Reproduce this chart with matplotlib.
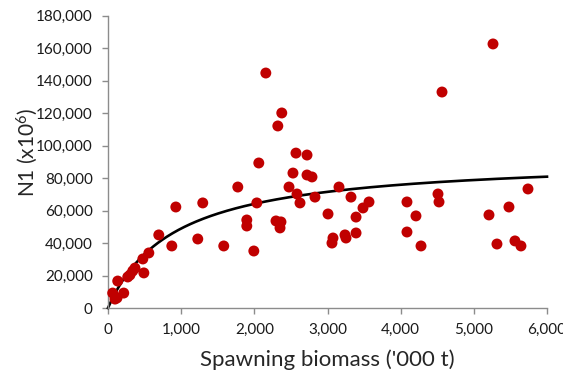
import numpy as np
import matplotlib
matplotlib.use("Agg")
import matplotlib.pyplot as plt
from matplotlib.ticker import FuncFormatter

plt.rcParams['font.family'] = ['Lato', 'DejaVu Sans']
plt.rcParams['mathtext.fontset'] = 'custom'
plt.rcParams['mathtext.rm'] = 'Lato'
plt.rcParams['mathtext.it'] = 'Lato'

# --- dados ---
biomass = [96, 64, 133, 215, 270, 338, 490, 476, 558, 694, 872, 927,
           1227, 1295, 1582, 1774, 1897, 1897, 1993, 2034, 2061, 2157,
           2321, 2375, 2296, 2364, 2351, 2474, 2528, 2569, 2720, 2583,
           2624, 2720, 2788, 2829, 3157, 3321, 3567, 3485, 3390, 3007,
           3075, 3061, 3239, 3253, 3390, 4086, 4209, 4086, 4278, 4510,
           4524, 4565, 5262, 5207, 5316, 5480, 5562, 5644, 5740,
           123, 300, 369]
n1 = [5500, 9200, 16600, 9200, 19100, 22800, 21600, 30200, 33900, 45000,
      38200, 62200, 42500, 64700, 38200, 74500, 54200, 50500, 35100, 64700,
      89300, 144700, 112100, 120100, 53600, 53000, 49300, 74500, 83100,
      95400, 94200, 70200, 64700, 81900, 80700, 68300, 74500, 68300, 65300,
      61600, 56000, 57900, 43100, 40000, 45000, 43100, 46200, 65300, 56700,
      46800, 38200, 70200, 65300, 133000, 162600, 57300, 39400, 62200,
      41300, 38200, 73300, 6200, 20300, 24600]

# curva Beverton-Holt ajustada: R = a*S/(b+S)
bh_a = 93000
bh_b = 900

fig = plt.figure(figsize=(5.63, 3.75), dpi=100)
ax = fig.add_axes([108/563, 1-308/375, (547-108)/563, (308-15.7)/375])

s = np.linspace(0, 6000, 300)
ax.plot(s, bh_a*s/(bh_b+s), color='black', lw=1.9, zorder=2, clip_on=False)
ax.scatter(biomass, n1, s=62, color='#C00000', edgecolors='none',
           zorder=3, clip_on=False)

ax.set_xlim(0, 6000)
ax.set_ylim(0, 180000)
ax.set_xticks(np.arange(0, 6001, 1000))
ax.set_yticks(np.arange(0, 180001, 20000))
fmt = FuncFormatter(lambda v, p: f"{int(v):,}")
ax.xaxis.set_major_formatter(fmt)
ax.yaxis.set_major_formatter(fmt)

for sp in ['top', 'right']:
    ax.spines[sp].set_visible(False)
for sp in ['left', 'bottom']:
    ax.spines[sp].set_color('#8c8c8c')
    ax.spines[sp].set_linewidth(1.0)
ax.tick_params(direction='out', length=4, width=1.0, color='#8c8c8c',
               labelsize=11, labelcolor='#1a1a1a', pad=7)

ax.set_xlabel("Spawning biomass ('000 t)", fontsize=16, color='#262626',
              labelpad=9)
fig.text(27/563, 1-152/375, r'N1 (x10$^6$)', rotation=90, fontsize=15,
         color='#262626', ha='center', va='center')

fig.savefig('out.png', dpi=100)
